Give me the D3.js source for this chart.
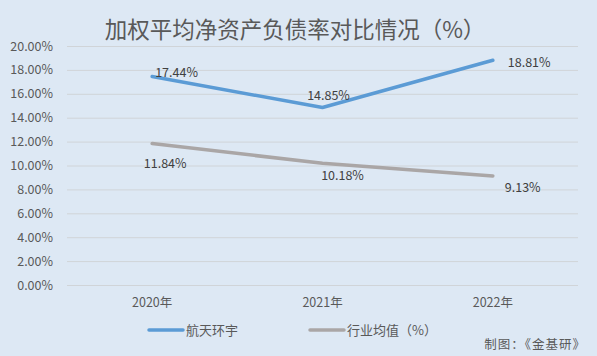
<!DOCTYPE html>
<html><head><meta charset="utf-8">
<script src="https://cdn.jsdelivr.net/npm/d3@7"></script>
<style>
html,body{margin:0;padding:0;background:#dde8f4;}
svg{display:block;font-family:"Noto Sans CJK SC","Microsoft YaHei",sans-serif;}
</style></head>
<body>
<svg id="chart" width="597" height="356"></svg>
<script>
const categories = ["2020年", "2021年", "2022年"];
const seriesNames = ["航天环宇", "行业均值（%）"];
const company = [17.44, 14.85, 18.81];
const industry = [11.84, 10.18, 9.13];
const yTicks = [0, 2, 4, 6, 8, 10, 12, 14, 16, 18, 20];
const title = "加权平均净资产负债率对比情况（%）";
const note = "制图：《金基研》";

(function () {
const colors = ["#5b9bd5", "#aaa6a6"];
// label offsets (layout only)
const labelOffsets = [
  [[3, -4, "start"], [6, -12, "middle"], [15, 2, "start"]],
  [[13, 20, "middle"], [20, 12, "middle"], [12, 12, "start"]]
];

const svg = d3.select("#chart");
svg.append("rect").attr("width", 597).attr("height", 356).attr("fill", "#dde8f4");

const mLeft = 67, mRight = 578, mTop = 46, mBottom = 285;
const x = d3.scaleBand().domain(categories).range([mLeft, mRight]);
const y = d3.scaleLinear().domain([0, 20]).range([mBottom, mTop]);

svg.append("text").attr("x", 295).attr("y", 38).attr("text-anchor", "middle")
  .attr("font-size", 22.5).attr("fill", "#595959").text(title);

// grid
svg.append("g").selectAll("line").data(yTicks).join("line")
  .attr("x1", mLeft).attr("x2", mRight)
  .attr("y1", d => y(d) + 0.5).attr("y2", d => y(d) + 0.5)
  .attr("stroke", "#d0d4d8").attr("stroke-width", 1);

const yAxis = d3.axisLeft(y).tickValues(yTicks).tickFormat(d => d.toFixed(2) + "%").tickSize(0).tickPadding(14);
const gy = svg.append("g").attr("transform", `translate(${mLeft},0)`).call(yAxis);
gy.select(".domain").remove();
gy.selectAll("text").attr("font-size", 12.5).attr("fill", "#595959").attr("font-family", "\"Noto Sans CJK SC\",sans-serif");

const xAxis = d3.axisBottom(x).tickSize(0).tickPadding(13);
const gx = svg.append("g").attr("transform", `translate(0,${mBottom})`).call(xAxis);
gx.select(".domain").remove();
gx.selectAll("text").attr("font-size", 12.5).attr("fill", "#595959").attr("font-family", "\"Noto Sans CJK SC\",sans-serif");

const line = d3.line().x((d, i) => x(categories[i]) + x.bandwidth() / 2).y(d => y(d));
[company, industry].forEach((s, si) => {
  svg.append("path").datum(s).attr("d", line).attr("fill", "none")
    .attr("stroke", colors[si]).attr("stroke-width", 3.5).attr("stroke-linecap", "round").attr("stroke-linejoin", "round");
  svg.append("g").selectAll("text").data(s).join("text")
    .attr("x", (d, i) => x(categories[i]) + x.bandwidth() / 2 + labelOffsets[si][i][0])
    .attr("y", (d, i) => y(d) + labelOffsets[si][i][1])
    .attr("dy", "0.35em")
    .attr("text-anchor", (d, i) => labelOffsets[si][i][2])
    .attr("font-size", 12.5).attr("fill", "#404040")
    .text(d => d.toFixed(2) + "%");
});

// legend
const legendX = [149, 310];
seriesNames.forEach((n, i) => {
  const g = svg.append("g").attr("transform", `translate(${legendX[i]},330)`);
  g.append("line").attr("x1", 0).attr("x2", 34).attr("y1", 0).attr("y2", 0)
    .attr("stroke", colors[i]).attr("stroke-width", 3.5).attr("stroke-linecap", "round");
  g.append("text").attr("x", 37).attr("y", 0).attr("dy", "0.35em")
    .attr("font-size", 13).attr("fill", "#595959").text(n);
});

svg.append("text").attr("x", 586).attr("y", 345).attr("dy", "0.35em").attr("text-anchor", "end")
  .attr("font-size", 12.5).attr("letter-spacing", 1).attr("fill", "#595959").text(note);
})();
</script>
</body></html>
